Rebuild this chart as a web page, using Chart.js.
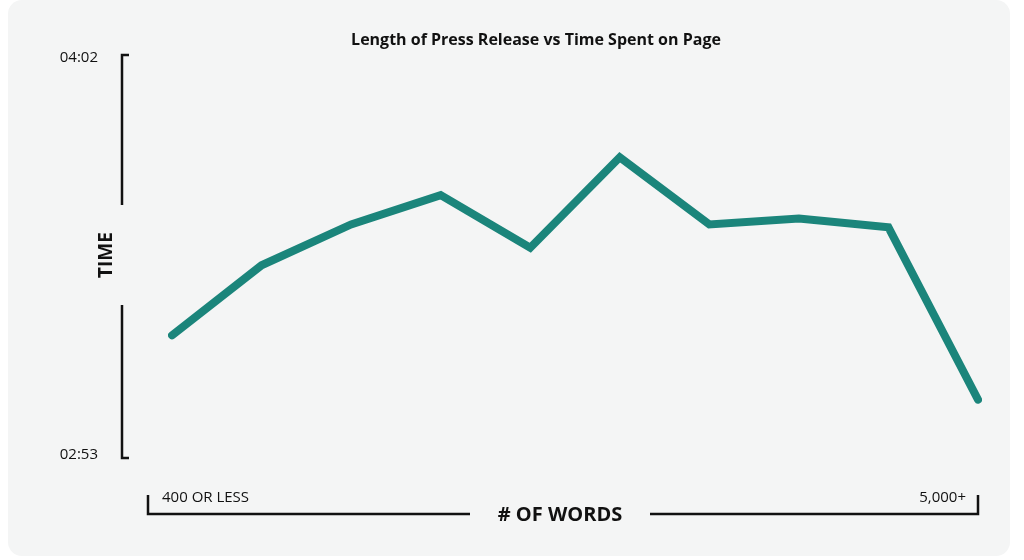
<!DOCTYPE html>
<html><head><meta charset="utf-8">
<script src="https://cdn.jsdelivr.net/npm/chart.js@4"></script>
<style>html,body{margin:0;padding:0;background:#fff;}#wrap{width:1024px;height:560px;position:relative;}</style>
</head><body><div id="wrap"><canvas id="c" width="1024" height="560"></canvas></div>
<script>
const categories = ["400 OR LESS","","","","","","","","","5,000+"];
const seconds = [194, 206, 213, 218, 209, 224.5, 213, 214, 212.5, 183];
const yTickLabels = ["02:53","04:02"];
const yMin = 173, yMax = 242;
const title = "Length of Press Release vs Time Spent on Page";

const deco = {
  id:'deco',
  beforeDraw(ch){
    const c=ch.ctx; c.save();
    c.fillStyle='#f4f5f5';
    c.beginPath(); c.roundRect(8,0,1002,556,14); c.fill();
    c.restore();
  },
  afterDraw(ch){
    const c=ch.ctx, y=ch.scales.y, x=ch.scales.x;
    const top=y.getPixelForValue(yMax), bot=y.getPixelForValue(yMin);
    c.save();
    c.strokeStyle='#111'; c.lineWidth=2.5; c.fillStyle='#111';
    const ax=122;
    c.beginPath();
    c.moveTo(129,top);c.lineTo(ax,top);c.lineTo(ax,205);
    c.moveTo(ax,305);c.lineTo(ax,bot);c.lineTo(129,bot);
    c.stroke();
    c.font='15px "Open Sans", sans-serif'; c.textAlign='right'; c.textBaseline='middle';
    c.fillText(yTickLabels[1],98,top+3); c.fillText(yTickLabels[0],98,bot-3);
    c.save(); c.translate(107,255); c.rotate(-Math.PI/2);
    c.font='bold 19px "Open Sans", sans-serif'; c.textAlign='center';
    c.fillText('TIME',0,0); c.restore();
    const by=514, x0=148, x1=978;
    c.beginPath();
    c.moveTo(x0,495);c.lineTo(x0,by);c.lineTo(470,by);
    c.moveTo(650,by);c.lineTo(x1,by);c.lineTo(x1,495);
    c.stroke();
    c.font='bold 20px "Open Sans", sans-serif'; c.textAlign='center';
    c.fillText('# OF WORDS',560,515);
    c.font='15px "Open Sans", sans-serif'; c.textAlign='left';
    c.fillText(categories[0],162,498);
    c.textAlign='right'; c.fillText(categories[categories.length-1],966,498);
    c.font='bold 16px "Open Sans", sans-serif'; c.textAlign='center';
    c.fillText(title,536,40);
    c.restore();
  }
};

new Chart(document.getElementById('c'),{
  type:'line',
  data:{labels:categories,datasets:[{data:seconds,borderColor:'#1b857b',borderWidth:8,pointRadius:0,tension:0,fill:false,borderJoinStyle:'miter',borderCapStyle:'round'}]},
  options:{responsive:false,animation:false,
    layout:{padding:{left:172,right:46,top:55,bottom:102}},
    plugins:{legend:{display:false},tooltip:{enabled:false},title:{display:false}},
    scales:{x:{display:false,offset:false},y:{display:false,min:yMin,max:yMax}}},
  plugins:[deco]
});
</script></body></html>
